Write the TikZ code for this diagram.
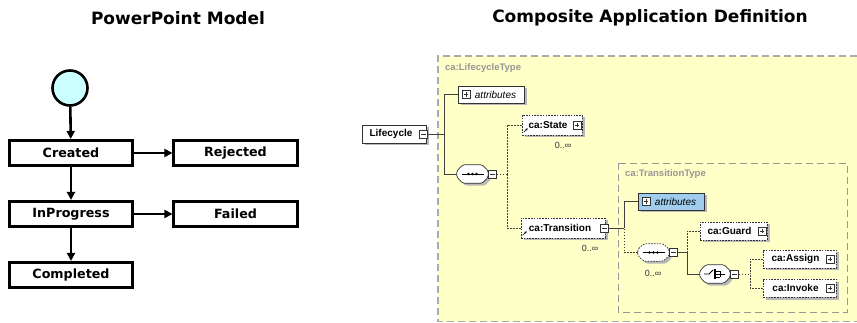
\documentclass[tikz,border=0pt]{standalone}
\usepackage{fontspec}
\setmainfont{DejaVu Sans}
\newfontfamily\xsf{Liberation Sans}
\usetikzlibrary{arrows.meta,shadows,calc}
\definecolor{cyanfill}{RGB}{204,255,255}
\definecolor{ybg}{RGB}{255,255,200}
\definecolor{tgray}{RGB}{150,150,150}
\definecolor{bluefill}{RGB}{160,205,238}
\newcommand\compshape[2][]{%
  \draw[draw=black!80, fill=white, line width=0.7pt, rounded corners=1.5pt,
        drop shadow={shadow xshift=2.5pt, shadow yshift=-2.5pt, fill=black!28, opacity=1}, #1]
    ($(#2.west)+(0,-3)$) -- ($(#2.north west)+(6,0)$) -- ($(#2.north east)+(-6,0)$) --
    ($(#2.east)+(0,-3)$) -- ($(#2.east)+(0,3)$) -- ($(#2.south east)+(-6,0)$) --
    ($(#2.south west)+(6,0)$) -- ($(#2.west)+(0,3)$) -- cycle;}
\begin{document}
\begin{tikzpicture}[x=1pt,y=-1pt,
  stbox/.style={draw, line width=2.6pt, minimum width=123.5pt, minimum height=25.5pt, inner sep=0pt, font=\fontsize{12.7}{14}\selectfont\bfseries},
  flow/.style={line width=2.6pt, -{Triangle[length=8pt,width=8pt]}},
  ttl/.style={font=\fontsize{17}{20}\selectfont\bfseries, inner sep=0pt},
  shd/.style={drop shadow={shadow xshift=2.5pt, shadow yshift=-2.5pt, fill=black!28, opacity=1}},
  el/.style={draw=black!80, fill=white, line width=0.7pt, inner sep=0pt, font=\xsf\fontsize{10}{12}\selectfont\bfseries, shd},
  opt/.style={el, dash pattern=on 1.6pt off 1.2pt},
  attr/.style={draw=black!80, fill=white, line width=0.7pt, inner sep=0pt, font=\xsf\fontsize{10}{12}\selectfont\itshape, shd, minimum width=66pt, minimum height=17pt},
  comp/.style={rectangle, inner sep=0pt},
  pmb/.style={draw=black!80, fill=white, line width=0.6pt, minimum size=8pt, inner sep=0pt},
  minusb/.style={pmb, path picture={\draw[line width=0.7pt] ([xshift=1.8pt]path picture bounding box.west) -- ([xshift=-1.8pt]path picture bounding box.east);}},
  plusb/.style={pmb, path picture={\draw[line width=0.7pt] ([xshift=1.8pt]path picture bounding box.west) -- ([xshift=-1.8pt]path picture bounding box.east); \draw[line width=0.7pt] ([yshift=1.8pt]path picture bounding box.south) -- ([yshift=-1.8pt]path picture bounding box.north);}},
  conn/.style={draw=black!75, line width=0.8pt},
  dconn/.style={conn, dash pattern=on 1.5pt off 1.5pt},
  lbl/.style={text=tgray, font=\xsf\fontsize{9.5}{11}\selectfont\bfseries, anchor=west, inner sep=0pt},
  mul/.style={font=\xsf\fontsize{9}{10}\selectfont, inner sep=0pt, text=black!80},
  refarr/.style={line width=0.6pt, -{Stealth[length=2.5pt,width=2.5pt]}}
]
\useasboundingbox (0,0) rectangle (857,323);

% ---------- titles
\node[ttl] (t1) at (178,18) {PowerPoint Model};
\node[ttl] (t2) at (650,18) {Composite Application Definition};

% ---------- PowerPoint model
\node[circle, draw, line width=2.6pt, fill=cyanfill, minimum size=35pt, inner sep=0pt] (init) at (70,88) {};
\node[stbox] (cr) at (71,153) {Created};
\node[stbox] (rj) at (235.5,153) {Rejected};
\node[stbox] (ip) at (71,214) {InProgress};
\node[stbox] (fl) at (235.5,214) {Failed};
\node[stbox] (cp) at (71,275) {Completed};
\draw[flow] (init) -- (cr);
\draw[flow] (cr) -- (rj);
\draw[flow] (cr) -- (ip);
\draw[flow] (ip) -- (fl);
\draw[flow] (ip) -- (cp);

% ---------- schema background
\fill[ybg] (438,56) rectangle (857,322);
\draw[tgray!80, line width=1.4pt, dash pattern=on 7pt off 4pt] (857,56) -- (438,56) -- (438,321.5) -- (857,321.5);
\draw[tgray, line width=0.9pt, dash pattern=on 7pt off 4pt] (618,163) rectangle (847,312);
\node[lbl] (lt) at (445,68) {ca:LifecycleType};
\node[lbl] (tt) at (625,174) {ca:TransitionType};

% ---------- Lifecycle type
\node[el, minimum width=64pt, minimum height=18pt] (lc) at (394,134) {Lifecycle\hspace*{6pt}};
\node[minusb] (lcm) at (423.5,134) {};
\node[attr] (at1) at (491,94.5) {\hspace*{9pt}attributes};
\node[plusb] (at1p) at (466,94.5) {};
\node[comp, minimum width=31pt, minimum height=18pt] (s1) at (472.5,174) {};
\compshape{s1}
\node[minusb] (s1m) at (492.5,174) {};
\draw[line width=0.8pt] ($(s1)+(-11,0)$) -- ($(s1)+(11,0)$);
\foreach \d in {-4,0,4} \fill ($(s1)+(\d,0)$) circle[radius=1.3pt];

\node[opt, minimum width=60pt, minimum height=20pt] (st) at (552,125) {ca:State\hspace*{8pt}};
\node[plusb] (stp) at (577,125) {};
\node[mul] (stmul) at (563,145) {0..∞};
\draw[refarr] ($(st.south west)+(2,-3)$) -- ++(4,-4);

\node[opt, minimum width=84pt, minimum height=20pt] (tr) at (563,228) {ca:Transition\hspace*{6pt}};
\node[minusb] (trm) at (604.5,228) {};
\node[mul] (trmul) at (590,248) {0..∞};
\draw[refarr] ($(tr.south west)+(2,-3)$) -- ++(4,-4);

\coordinate (j1) at (444,134);
\coordinate (jv) at (507,174);
\draw[conn] (lcm) -- (j1);
\draw[conn] (at1.west) -| (j1);
\draw[conn] (s1.west) -| (j1);
\draw[dconn] (s1m) -- (jv);
\draw[dconn] (st.west) -| (jv);
\draw[dconn] (tr.west) -| (jv);

% ---------- Transition type
\node[attr, fill=bluefill] (at2) at (671,201.5) {\hspace*{9pt}attributes};
\node[plusb] (at2p) at (646,201.5) {};
\node[comp, minimum width=31pt, minimum height=17pt] (s2) at (653.5,252.5) {};
\compshape[dash pattern=on 1.6pt off 1.2pt]{s2}
\node[minusb] (s2m) at (673.5,252.5) {};
\draw[line width=0.8pt] ($(s2)+(-11,0)$) -- ($(s2)+(11,0)$);
\foreach \d in {-4,0,4} \fill ($(s2)+(\d,0)$) circle[radius=1.3pt];
\node[mul] (s2mul) at (653,273) {0..∞};

\node[opt, minimum width=67pt, minimum height=18pt] (gd) at (733.5,231) {ca:Guard\hspace*{8pt}};
\node[plusb] (gdp) at (762,231) {};

\node[comp, minimum width=30pt, minimum height=18pt] (c1) at (715,274) {};
\compshape{c1}
\node[minusb] (c1m) at (734.5,274) {};
\draw[line width=0.8pt] ($(c1)+(-11,0)$) -- ($(c1)+(-6,0)$) -- ($(c1)+(-2,-4)$);
\fill ($(c1)+(-0.8,-5)$) rectangle ($(c1)+(1.2,5)$);
\foreach \d in {-3,0,3} \draw[line width=0.7pt] ($(c1)+(1.2,\d)$) -- ($(c1)+(5,\d)$);
\draw[line width=0.7pt] ($(c1)+(5,-3)$) -- ($(c1)+(5,3)$);
\draw[line width=0.8pt] ($(c1)+(5,0)$) -- ($(c1)+(10,0)$);

\node[opt, minimum width=73pt, minimum height=18pt] (as) at (799.5,259) {ca:Assign\hspace*{8pt}};
\node[plusb] (asp) at (830,259) {};
\node[opt, minimum width=73pt, minimum height=18pt] (iv) at (799.5,288) {ca:Invoke\hspace*{8pt}};
\node[plusb] (ivp) at (830,288) {};

\coordinate (j2) at (624,228);
\coordinate (j3) at (687,252.5);
\coordinate (j4) at (750,274);
\draw[conn] (trm) -- (j2);
\draw[conn] (at2.west) -| (j2);
\draw[dconn] (s2.west) -| (j2);
\draw[conn] (s2m) -- (j3);
\draw[dconn] (gd.west) -| (j3);
\draw[conn] (c1.west) -| (j3);
\draw[dconn] (c1m) -- (j4);
\draw[dconn] (as.west) -| (j4);
\draw[dconn] (iv.west) -| (j4);
\end{tikzpicture}
\end{document}
